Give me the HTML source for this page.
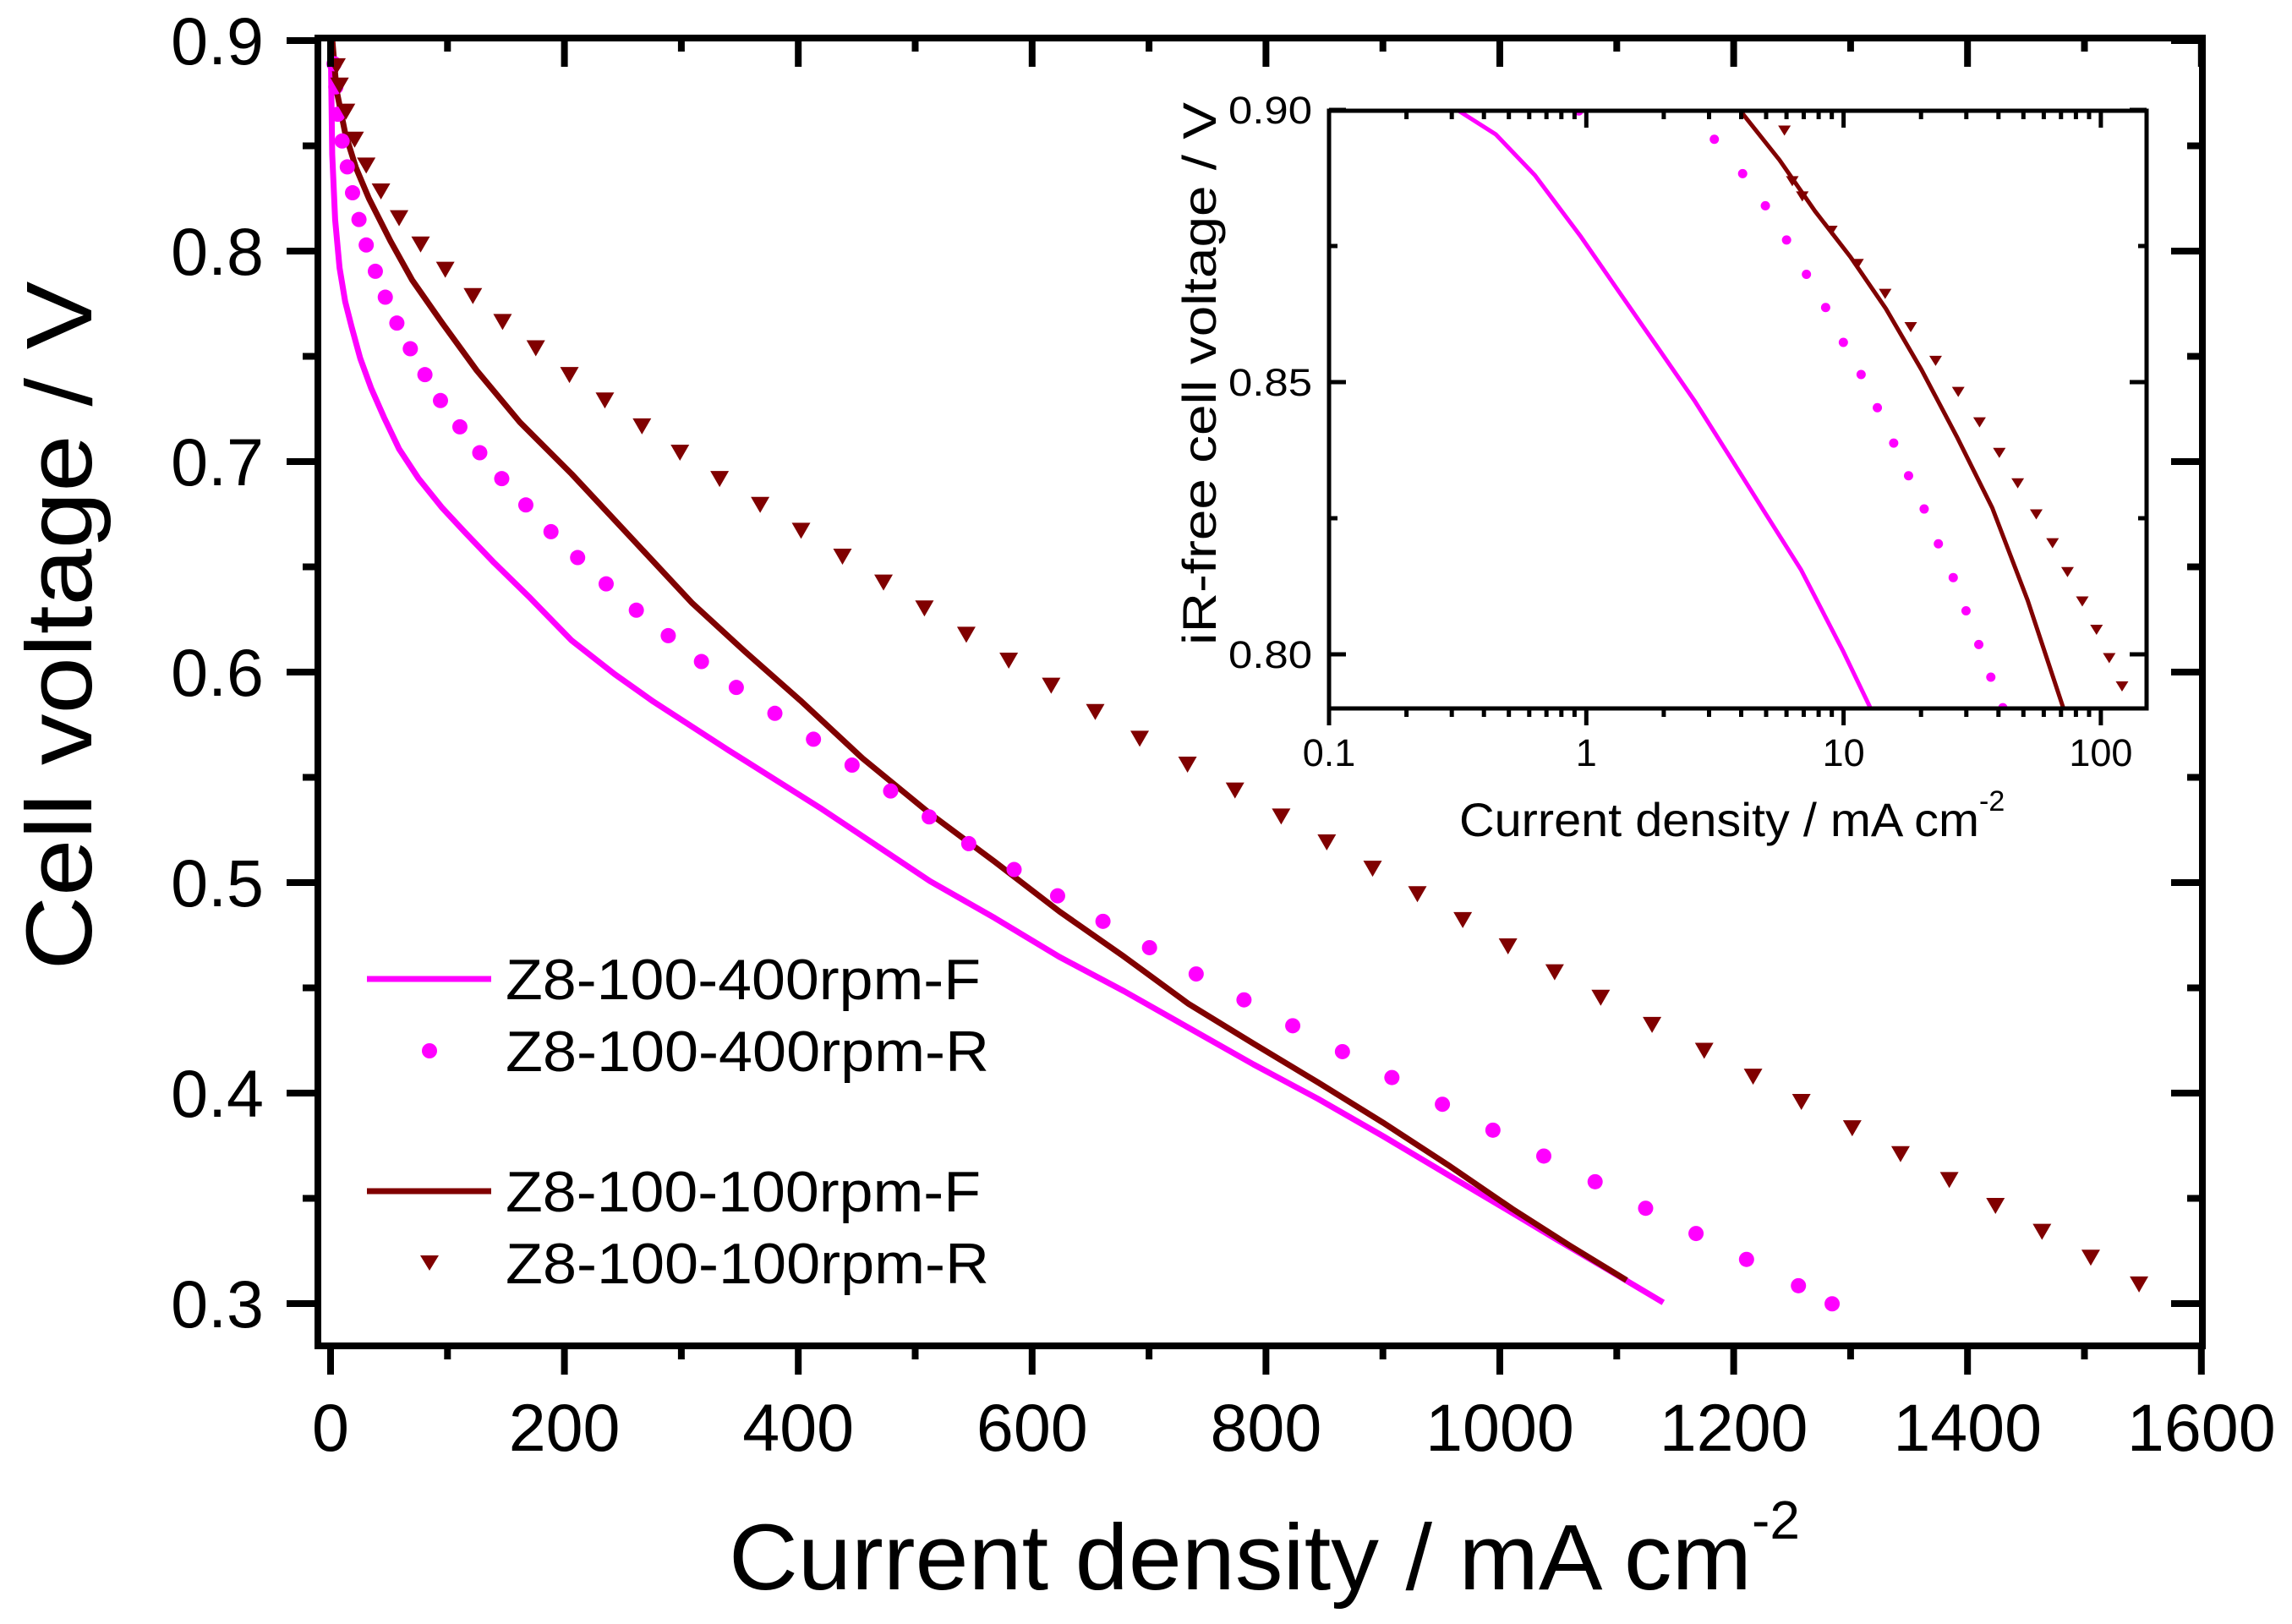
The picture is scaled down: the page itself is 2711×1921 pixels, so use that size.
<!DOCTYPE html>
<html><head><meta charset="utf-8"><style>
html,body{margin:0;padding:0;background:#fff;}
svg{display:block;font-family:"Liberation Sans",Arial,sans-serif;}
</style></head><body>
<svg id="chart" width="2711" height="1921" viewBox="0 0 2711 1921" xmlns="http://www.w3.org/2000/svg"></svg>
<script>
// ---- main plot data ----
const xTicks = [0,200,400,600,800,1000,1200,1400,1600];
const yTicks = [0.3,0.4,0.5,0.6,0.7,0.8,0.9];
const f400X = [0.3,0.5,1.4,3.9,7.7,12.5,18,25.4,34.6,45.7,58.6,75.2,95.5,113.9,139.8,169.3,206.2,243,276,340,420,512.6,568,623.3,678.7,734,789.4,844.7,900,955,1000,1047,1091,1139.8];
const f400V = [0.9,0.883,0.846,0.815,0.792,0.776,0.764,0.749,0.735,0.721,0.706,0.692,0.678,0.667,0.652,0.636,0.615,0.599,0.586,0.563,0.535,0.5007,0.4832,0.4647,0.4484,0.4310,0.4136,0.3972,0.3796,0.3614,0.3466,0.331,0.3166,0.3005];
const r400X = [3,4.5,6.2,9.9,14.3,18.8,24.3,30.5,38.3,46.8,56.7,68.2,80.7,94,110.6,127.6,146.4,167,188.5,211.3,235.7,261.5,288.8,317.2,347,380,413,446,479,512,545.8,584.6,621.8,660.6,700.4,740.3,781.2,822.9,865.4,907.7,950.9,994.1,1037.6,1081.5,1124.7,1167.8,1211,1255.4,1284.2];
const r400V = [0.889,0.878,0.865,0.8523,0.8400,0.8277,0.8150,0.8029,0.7904,0.7781,0.7658,0.7536,0.7413,0.7290,0.7165,0.7042,0.6919,0.6794,0.6667,0.6544,0.6419,0.6294,0.6173,0.6050,0.5927,0.5804,0.5681,0.5558,0.5435,0.5312,0.5185,0.5062,0.4937,0.4816,0.4691,0.4566,0.4443,0.4320,0.4197,0.4074,0.3947,0.3824,0.3701,0.3579,0.3453,0.3333,0.3210,0.3085,0.2999];
const f100X = [1.4,5.1,12.5,21.7,32.8,51.2,69.7,95.5,125,161.9,206.2,257.8,309.4,353.7,401.6,455,512.6,568,623.3,678.7,734,789.4,844.7,900,955.3,1010.6,1060,1108.4];
const f100V = [0.901,0.8765,0.856,0.8396,0.825,0.8048,0.7863,0.7658,0.7433,0.7187,0.6941,0.6634,0.6327,0.6101,0.5866,0.559,0.5328,0.5099,0.4863,0.4648,0.4423,0.4235,0.4050,0.3860,0.3660,0.3450,0.3275,0.3111];
const r100X = [5.1,7.7,13.2,20.6,30.5,43.1,58.6,77,98.1,121.7,147.1,175.5,204.3,234.6,266.3,298.8,332.7,367.4,402.4,437.8,472.9,507.9,543.7,580,616.3,654,692,732.9,773.5,813,852,891.2,929.5,968.3,1007,1046.9,1086.3,1130.2,1174.8,1216.6,1257.9,1301.4,1342.7,1384.4,1423.9,1463.7,1505.4,1546.7];
const r100V = [0.8878,0.8786,0.8662,0.8529,0.8406,0.8283,0.8156,0.8031,0.7911,0.7786,0.7663,0.7538,0.7411,0.7290,0.7167,0.7042,0.6917,0.6794,0.6671,0.6548,0.6425,0.6302,0.6177,0.6054,0.5935,0.5810,0.5683,0.5560,0.5437,0.5314,0.5191,0.5066,0.4945,0.4822,0.4697,0.4574,0.4453,0.4324,0.4201,0.4078,0.3958,0.3833,0.3710,0.3587,0.3464,0.3341,0.3218,0.3091];
// ---- inset data ----
const inXTicks = [0.1,1,10,100];
const inXTickLabels = ["0.1","1","10","100"];
const inYTicks = [0.80,0.85,0.90];
const inYTickLabels = ["0.80","0.85","0.90"];
const iF400X = [0.320,0.445,0.631,0.953,1.395,1.918,2.633,3.614,4.966,6.82,9.98,12.7];
const iF400V = [0.8998,0.8955,0.8880,0.8767,0.8654,0.8560,0.8466,0.8363,0.8259,0.8156,0.8005,0.7902];
const iR400X = [0.935,3.145,4.052,4.966,6.003,7.172,8.517,9.98,11.70,13.53,15.66,17.89,20.57,23.36,26.68,29.92,33.54,37.36,41.6];
const iR400V = [0.8998,0.8946,0.8883,0.8824,0.8761,0.8698,0.8637,0.8573,0.8514,0.8453,0.8388,0.8328,0.8267,0.8203,0.8141,0.8080,0.8018,0.7958,0.7902];
const iF100X = [3.975,5.635,7.745,10.63,14.60,20.07,27.54,37.84,51.96,71.4];
const iF100V = [0.8998,0.8908,0.8814,0.8730,0.8635,0.8523,0.8400,0.8269,0.8099,0.7902];
const iR100X = [5.89,6.32,6.91,8.96,11.33,14.51,18.24,22.79,27.91,33.77,40.31,47.53,56.1,64.9,74.2,84.7,96.2,107.8,120.9];
const iR100V = [0.8962,0.8869,0.8841,0.8778,0.8717,0.8662,0.8601,0.8539,0.8482,0.8426,0.8370,0.8314,0.8257,0.8204,0.8151,0.8097,0.8045,0.7993,0.7941];

const NS = "http://www.w3.org/2000/svg";
const svg = document.getElementById('chart');
function mk(tag, attrs, parent){const e=document.createElementNS(NS,tag);for(const k in attrs)e.setAttribute(k,attrs[k]);(parent||svg).appendChild(e);return e;}

const MAG = "#ff00ff", DRED = "#800000";
const X = v => 391 + v*1.383;
const Y = v => 48 + (0.9 - v)*2490;
const mL=376, mR=2605, mT=45, mB=1592;
const IX = v => 1572 + Math.log10(v/0.1)*304.3;
const IY = v => 130 + (0.9 - v)*6440;
const iL=1572, iR=2539, iT=131, iB=838;

const defs = mk('defs',{});
const cp1 = mk('clipPath',{id:'mclip'},defs); mk('rect',{x:mL,y:mT,width:mR-mL,height:mB-mT},cp1);
const cp2 = mk('clipPath',{id:'iclip'},defs); mk('rect',{x:iL,y:iT,width:iR-iL,height:iB-iT},cp2);

const gm = mk('g',{'clip-path':'url(#mclip)'});


function line(xs,vs,fx,fy,col,w,name,g){const p=mk('polyline',{points:xs.map((x,i)=>fx(x)+','+fy(vs[i])).join(' '),fill:'none',stroke:col,'stroke-width':w,'stroke-linejoin':'round'},g);


return p;}
function dots(xs,vs,fx,fy,col,r,name,g){const gg=mk('g',{},g);


xs.forEach((x,i)=>{const c=mk('circle',{cx:fx(x),cy:fy(vs[i]),r:r,fill:col},gg);

});}
function tris(xs,vs,fx,fy,col,w,h,name,g){const gg=mk('g',{},g);


xs.forEach((x,i)=>{const cx=fx(x),cy=fy(vs[i]);const t=mk('polygon',{points:`${cx-w/2},${cy-h/2} ${cx+w/2},${cy-h/2} ${cx},${cy+h/2}`,fill:col},gg);

});}

line(f400X,f400V,X,Y,MAG,7,'series-400rpm-f',gm);
line(f100X,f100V,X,Y,DRED,7,'series-100rpm-f',gm);
dots(r400X,r400V,X,Y,MAG,9,'series-400rpm-r',gm);
tris(r100X,r100V,X,Y,DRED,22,19,'series-100rpm-r',gm);

const fr = mk('rect',{x:mL,y:mT,width:mR-mL,height:mB-mT,fill:'none',stroke:'#000','stroke-width':8});


const tg = mk('g',{stroke:'#000','stroke-width':8});


for(let v=0; v<=1600; v+=100){const maj=v%200===0;const L=maj?34:16;const x=X(v);
 mk('line',{x1:x,y1:mB,x2:x,y2:mB+L},tg); mk('line',{x1:x,y1:mT,x2:x,y2:mT+L},tg);}
for(let k=0;k<=12;k++){const v=0.3+k*0.05;const maj=k%2===0;const L=maj?37:18;const y=Y(v);
 mk('line',{x1:mL,y1:y,x2:mL-L,y2:y},tg); mk('line',{x1:mR,y1:y,x2:mR-L,y2:y},tg);}
const xl = mk('g',{'font-size':79,'text-anchor':'middle',fill:'#000'});


xTicks.forEach(v=>{const t=mk('text',{x:X(v),y:1716},xl);t.textContent=String(v);});
const yl = mk('g',{'font-size':79,'text-anchor':'end',fill:'#000'});


yTicks.forEach(v=>{const t=mk('text',{x:312,y:Y(v)+28},yl);t.textContent=v.toFixed(1);});

const xt = mk('text',{x:862,y:1880,'font-size':110,fill:'#000'});


xt.innerHTML = '<tspan textLength="1210" lengthAdjust="spacingAndGlyphs">Current density / mA cm</tspan><tspan font-size="64" dy="-60">-2</tspan>';
const yt = mk('text',{x:0,y:0,'font-size':110,fill:'#000','text-anchor':'middle',transform:'translate(108,740) rotate(-90)',textLength:815,lengthAdjust:'spacingAndGlyphs'});


yt.textContent='Cell voltage / V';

const lg = mk('g',{});


const entries=[['line',MAG,'Z8-100-400rpm-F',1158],['dot',MAG,'Z8-100-400rpm-R',1243],['line',DRED,'Z8-100-100rpm-F',1409],['tri',DRED,'Z8-100-100rpm-R',1494]];
entries.forEach(e=>{const g=mk('g',{},lg);
 
 
 if(e[0]==='line') mk('line',{x1:434,y1:e[3],x2:581,y2:e[3],stroke:e[1],'stroke-width':7},g);
 else if(e[0]==='dot') mk('circle',{cx:508,cy:e[3],r:9,fill:e[1]},g);
 else mk('polygon',{points:`${497},${e[3]-9} ${519},${e[3]-9} ${508},${e[3]+9}`,fill:e[1]},g);
 const t=mk('text',{x:598,y:e[3]+24,'font-size':68,fill:'#000',textLength:(e[2].endsWith('F')?562:572),lengthAdjust:'spacingAndGlyphs'},g);t.textContent=e[2];});

mk('rect',{x:iL,y:iT,width:iR-iL,height:iB-iT,fill:'#fff'});
const gi = mk('g',{'clip-path':'url(#iclip)'});


line(iF400X,iF400V,IX,IY,MAG,5,'inset-series-400rpm-f',gi);
line(iF100X,iF100V,IX,IY,DRED,5,'inset-series-100rpm-f',gi);
dots(iR400X,iR400V,IX,IY,MAG,5.5,'inset-series-400rpm-r',gi);
tris(iR100X,iR100V,IX,IY,DRED,15,12,'inset-series-100rpm-r',gi);
const ifr = mk('rect',{x:iL,y:iT,width:iR-iL,height:iB-iT,fill:'none',stroke:'#000','stroke-width':5});


const itg = mk('g',{stroke:'#000','stroke-width':5});


for(let d=-1; d<=2; d++){for(let m=1;m<=9;m++){const v=m*Math.pow(10,d);const x=IX(v);if(x>iR)continue;const maj=m===1;const L=maj?20:10;
 mk('line',{x1:x,y1:iB,x2:x,y2:iB+L},itg); mk('line',{x1:x,y1:iT,x2:x,y2:iT+L},itg);}}
for(let k=0;k<=4;k++){const v=0.8+k*0.025;const maj=k%2===0;const L=maj?20:10;const y=IY(v);
 mk('line',{x1:iL,y1:y,x2:iL+L,y2:y},itg); mk('line',{x1:iR,y1:y,x2:iR-L,y2:y},itg);}
const ixl = mk('g',{'font-size':45,'text-anchor':'middle',fill:'#000'});


inXTicks.forEach((v,i)=>{const t=mk('text',{x:IX(v),y:906},ixl);t.textContent=inXTickLabels[i];});
const iyl = mk('g',{'font-size':45,'text-anchor':'end',fill:'#000'});


inYTicks.forEach((v,i)=>{const t=mk('text',{x:1552,y:IY(v)+16,textLength:99,lengthAdjust:'spacingAndGlyphs'},iyl);t.textContent=inYTickLabels[i];});
const ixt = mk('text',{x:1726,y:989,'font-size':56,fill:'#000'});


ixt.innerHTML = '<tspan textLength="615" lengthAdjust="spacingAndGlyphs">Current density / mA cm</tspan><tspan font-size="34" dy="-30">-2</tspan>';
const iyt = mk('text',{x:0,y:0,'font-size':56,fill:'#000','text-anchor':'middle',transform:'translate(1438,442) rotate(-90)',textLength:642,lengthAdjust:'spacingAndGlyphs'});


iyt.textContent='iR-free cell voltage / V';
</script>
</body></html>
